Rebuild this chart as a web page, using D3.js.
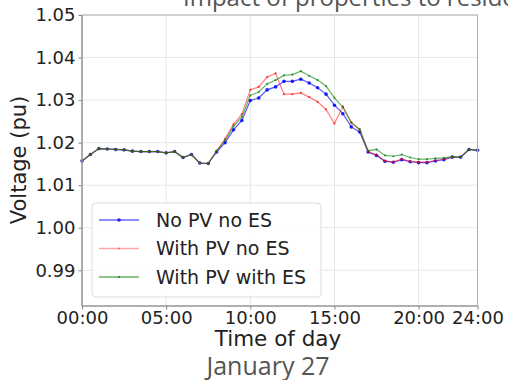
<!DOCTYPE html>
<html><head><meta charset="utf-8">
<script src="https://cdn.jsdelivr.net/npm/d3@7"></script>
<style>html,body{margin:0;padding:0;background:#fff;}svg{display:block;}</style>
</head><body>
<svg id="c" width="508" height="380"></svg>
<script>
const timeIndex = d3.range(48);
const tickIndex = [0, 10, 20, 30, 40, 47];
const tickLabels = ["00:00", "05:00", "10:00", "15:00", "20:00", "24:00"];
const yTicks = [0.99, 1.00, 1.01, 1.02, 1.03, 1.04, 1.05];
const seriesNames = ["No PV no ES", "With PV no ES", "With PV with ES"];
const noPvNoEs = [1.0157,1.0172,1.0186,1.0185,1.0184,1.0183,1.0180,1.0179,1.0179,1.0179,1.0176,1.0179,1.0165,1.0172,1.0152,1.0151,
  1.0178,1.0200,1.0230,1.0252,1.0299,1.0305,1.0324,1.0331,1.0344,1.0344,1.0349,1.0340,1.0329,1.0314,1.0288,1.0268,
  1.0237,1.0225,1.0178,1.0170,1.0156,1.0154,1.0160,1.0155,1.0153,1.0153,1.0157,1.0160,1.0166,1.0166,1.0184,1.0182];
const withPvNoEs = [1.0157,1.0172,1.0186,1.0185,1.0184,1.0183,1.0180,1.0179,1.0179,1.0179,1.0176,1.0179,1.0165,1.0172,1.0152,1.0151,
  1.0181,1.0209,1.0243,1.0267,1.0324,1.0331,1.0354,1.0363,1.0314,1.0314,1.0317,1.0307,1.0296,1.0278,1.0245,1.0285,
  1.0247,1.0231,1.0179,1.0171,1.0157,1.0155,1.0161,1.0156,1.0154,1.0154,1.0158,1.0161,1.0166,1.0166,1.0184,1.0182];
const withPvWithEs = [1.0157,1.0172,1.0186,1.0185,1.0184,1.0183,1.0180,1.0179,1.0179,1.0179,1.0176,1.0179,1.0165,1.0172,1.0152,1.0151,
  1.0180,1.0205,1.0238,1.0260,1.0311,1.0319,1.0338,1.0347,1.0358,1.0360,1.0368,1.0357,1.0347,1.0333,1.0305,1.0283,
  1.0247,1.0231,1.0181,1.0184,1.0170,1.0168,1.0172,1.0165,1.0161,1.0161,1.0163,1.0164,1.0167,1.0166,1.0184,1.0182];
const seriesColors = ["#0000ff", "#ff0000", "#008000"];
const seriesData = [noPvNoEs, withPvNoEs, withPvWithEs];

const svg = d3.select("#c");
const L = 82, R = 477.5, T = 15, B = 306;
const x = d3.scaleLinear().domain([0, 47]).range([L, R]);
const y = d3.scaleLinear().domain([0.9816, 1.05]).range([B, T]);
const tickFont = "DejaVu Sans";

// title (cut off at top, as in the original)
svg.append("text").attr("x", 183).attr("y", 5.5).attr("text-anchor", "start")
  .attr("font-family", "Open Sans").attr("font-size", 24).attr("fill", "#555")
  .text("Impact of properties to residents");

svg.append("rect").attr("x", L).attr("y", T).attr("width", R - L).attr("height", B - T).attr("fill", "#fff");

// grid
const g = svg.append("g");
g.selectAll(".gy").data(yTicks).join("line")
  .attr("x1", L).attr("x2", R).attr("y1", d => y(d)).attr("y2", d => y(d))
  .attr("stroke", "#e6e6e6").attr("stroke-width", 1);
g.selectAll(".gx").data(tickIndex).join("line")
  .attr("x1", d => x(d)).attr("x2", d => x(d)).attr("y1", T).attr("y2", B)
  .attr("stroke", "#e6e6e6").attr("stroke-width", 1);

// series
const line = d3.line().x((d, i) => x(timeIndex[i])).y(d => y(d));
const alphas = [0.65, 0.5, 0.6];
const mr = [1.8, 1.1, 1.1];
seriesData.forEach((s, k) => {
  svg.append("path").datum(s).attr("d", line).attr("fill", "none")
    .attr("stroke", seriesColors[k]).attr("stroke-opacity", alphas[k]).attr("stroke-width", 1.2);
  svg.append("g").selectAll("circle").data(s).join("circle")
    .attr("cx", (d, i) => x(timeIndex[i])).attr("cy", d => y(d)).attr("r", mr[k])
    .attr("fill", seriesColors[k]).attr("fill-opacity", k === 0 ? 0.85 : 0.7);
});

// frame
svg.append("rect").attr("x", L).attr("y", T).attr("width", R - L).attr("height", B - T)
  .attr("fill", "none").attr("stroke", "#b0b0b0").attr("stroke-width", 1);
svg.append("line").attr("x1", L).attr("x2", L).attr("y1", T).attr("y2", B).attr("stroke", "#888");
svg.append("line").attr("x1", L).attr("x2", R).attr("y1", B).attr("y2", B).attr("stroke", "#888");

// axes
const yAxis = d3.axisLeft(y).tickValues(yTicks).tickFormat(d3.format(".2f")).tickSize(3.5).tickPadding(3);
const ya = svg.append("g").attr("transform", `translate(${L},0)`).call(yAxis);
const xAxis = d3.axisBottom(x).tickValues(tickIndex).tickFormat((d, i) => tickLabels[i]).tickSize(3.5).tickPadding(2);
const xa = svg.append("g").attr("transform", `translate(0,${B})`).call(xAxis);
[ya, xa].forEach(a => {
  a.select(".domain").remove();
  a.selectAll(".tick line").attr("stroke", "#888");
  a.selectAll(".tick text").attr("font-family", tickFont).attr("font-size", 18).attr("fill", "#222");
});

svg.append("text").attr("x", 278).attr("y", 346).attr("text-anchor", "middle")
  .attr("font-family", tickFont).attr("font-size", 21.5).attr("fill", "#222").text("Time of day");
svg.append("text").attr("transform", "translate(26,160) rotate(-90)").attr("text-anchor", "middle")
  .attr("font-family", tickFont).attr("font-size", 21).attr("fill", "#222").text("Voltage (pu)");
svg.append("text").attr("x", 268).attr("y", 375).attr("text-anchor", "middle")
  .attr("font-family", "Open Sans").attr("font-size", 25).attr("fill", "#555").text("January 27");

// legend
const lg = svg.append("g");
lg.append("rect").attr("x", 92).attr("y", 203).attr("width", 229).attr("height", 94).attr("rx", 4)
  .attr("fill", "#fff").attr("fill-opacity", 0.8).attr("stroke", "#ddd");
const rowsY = [220, 248.5, 277];
seriesNames.forEach((n, k) => {
  lg.append("line").attr("x1", 99).attr("x2", 139).attr("y1", rowsY[k]).attr("y2", rowsY[k])
    .attr("stroke", seriesColors[k]).attr("stroke-opacity", k === 1 ? 0.35 : 0.6).attr("stroke-width", 1.3);
  lg.append("circle").attr("cx", 119).attr("cy", rowsY[k]).attr("r", mr[k])
    .attr("fill", seriesColors[k]).attr("fill-opacity", k === 1 ? 0.4 : 0.8);
  lg.append("text").attr("x", 156).attr("y", rowsY[k] + 6.5).attr("font-family", tickFont)
    .attr("font-size", 19).attr("fill", "#222").text(n);
});
</script>
</body></html>
